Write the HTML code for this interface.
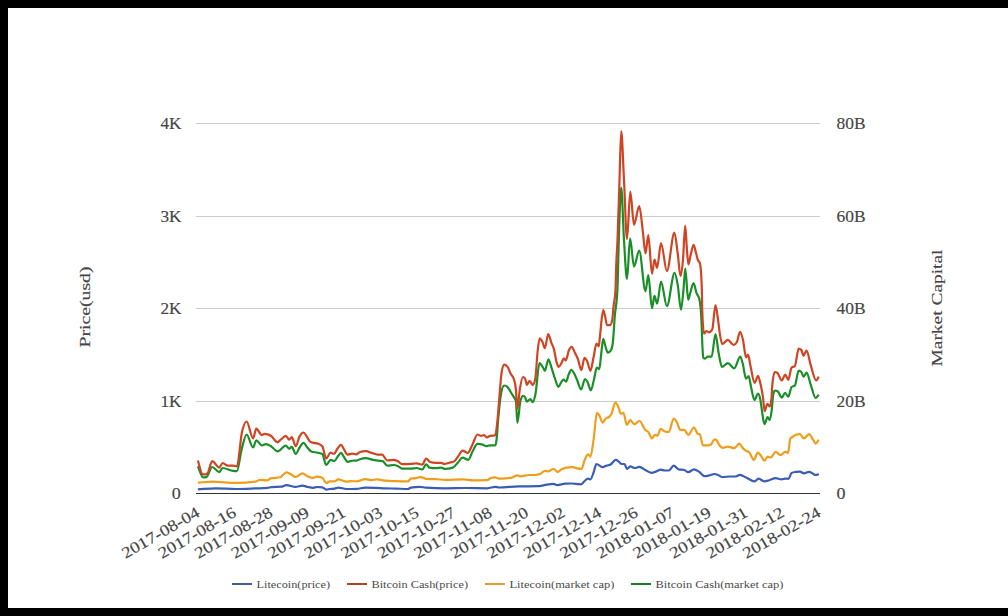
<!DOCTYPE html>
<html><head><meta charset="utf-8"><style>
html,body{margin:0;padding:0;background:#000;}
body{width:1008px;height:616px;overflow:hidden;}
svg{display:block;}
text{font-family:'Liberation Serif', serif;fill:#454545;stroke:#454545;stroke-width:0.15px;}
.ax{font-size:16px;}
.xl{font-size:16px;}
.an{font-size:15px;}
.lg{font-size:10px;fill:#4a4a4a;stroke:none;}
</style></head><body>
<svg width="1008" height="616" viewBox="0 0 1008 616">
<rect x="0" y="0" width="1008" height="616" fill="#000"/>
<rect x="8" y="8" width="1000" height="600" fill="#fff"/>
<line x1="196" y1="123.5" x2="820" y2="123.5" stroke="#ccc" stroke-width="1"/>
<line x1="196" y1="216.5" x2="820" y2="216.5" stroke="#ccc" stroke-width="1"/>
<line x1="196" y1="308.5" x2="820" y2="308.5" stroke="#ccc" stroke-width="1"/>
<line x1="196" y1="401.5" x2="820" y2="401.5" stroke="#ccc" stroke-width="1"/>
<line x1="196" y1="493.5" x2="820" y2="493.5" stroke="#333" stroke-width="1"/>
<text x="181.5" y="128.9" text-anchor="end" class="ax" textLength="21" lengthAdjust="spacingAndGlyphs">4K</text>
<text x="181.5" y="221.9" text-anchor="end" class="ax" textLength="21" lengthAdjust="spacingAndGlyphs">3K</text>
<text x="181.5" y="313.9" text-anchor="end" class="ax" textLength="21" lengthAdjust="spacingAndGlyphs">2K</text>
<text x="181.5" y="406.9" text-anchor="end" class="ax" textLength="21" lengthAdjust="spacingAndGlyphs">1K</text>
<text x="180.8" y="498.9" text-anchor="end" class="ax" textLength="9" lengthAdjust="spacingAndGlyphs">0</text>
<text x="836.5" y="128.9" text-anchor="start" class="ax" textLength="29" lengthAdjust="spacingAndGlyphs">80B</text>
<text x="836.5" y="221.9" text-anchor="start" class="ax" textLength="29" lengthAdjust="spacingAndGlyphs">60B</text>
<text x="836.5" y="313.9" text-anchor="start" class="ax" textLength="29" lengthAdjust="spacingAndGlyphs">40B</text>
<text x="836.5" y="406.9" text-anchor="start" class="ax" textLength="29" lengthAdjust="spacingAndGlyphs">20B</text>
<text x="836.5" y="498.9" text-anchor="start" class="ax" textLength="9" lengthAdjust="spacingAndGlyphs">0</text>
<path d="M197.90,482.60C202.90,482.30 207.90,481.70 212.90,481.70C220.50,481.70 228.10,482.90 235.70,482.90C242.30,482.90 248.90,482.50 255.50,481.70C256.83,481.54 258.17,480.00 259.50,480.00C262.13,480.00 264.77,480.30 267.40,480.30C268.40,480.30 269.40,478.62 270.40,478.40C273.70,477.67 277.00,478.03 280.30,477.30C282.30,476.86 284.30,472.30 286.30,472.30C287.70,472.30 289.10,473.40 290.50,474.10C292.17,474.93 293.83,477.00 295.50,477.00C297.80,477.00 300.10,473.40 302.40,473.40C304.23,473.40 306.07,475.65 307.90,476.40C309.73,477.15 311.57,477.90 313.40,477.90C314.53,477.90 315.67,476.70 316.80,476.70C318.63,476.70 320.47,477.03 322.30,477.70C323.63,478.18 324.97,483.10 326.30,483.10C327.43,483.10 328.57,481.40 329.70,481.40C331.37,481.40 333.03,481.40 334.70,481.40C335.87,481.40 337.03,479.40 338.20,479.40C341.00,479.40 343.80,481.70 346.60,481.70C348.27,481.70 349.93,481.10 351.60,481.10C353.23,481.10 354.87,481.40 356.50,481.40C359.47,481.40 362.43,479.10 365.40,479.10C367.40,479.10 369.40,480.10 371.40,480.10C373.37,480.10 375.33,479.40 377.30,479.40C379.97,479.40 382.63,480.45 385.30,480.70C388.87,481.03 392.43,481.08 396.00,481.20C399.97,481.33 403.93,481.40 407.90,481.40C408.90,481.40 409.90,478.76 410.90,478.60C412.53,478.33 414.17,478.47 415.80,478.20C417.13,477.98 418.47,477.20 419.80,477.20C421.13,477.20 422.47,477.43 423.80,477.90C424.47,478.13 425.13,478.86 425.80,478.90C429.10,479.10 432.40,479.03 435.70,479.20C439.00,479.37 442.30,479.90 445.60,479.90C451.57,479.90 457.53,479.40 463.50,479.40C466.80,479.40 470.10,480.40 473.40,480.40C478.03,480.40 482.67,480.33 487.30,480.20C488.30,480.17 489.30,478.53 490.30,478.20C491.93,477.67 493.57,477.40 495.20,477.40C496.47,477.40 497.73,478.60 499.00,478.60C501.17,478.60 503.33,478.53 505.50,478.40C507.67,478.27 509.83,478.13 512.00,477.60C513.73,477.17 515.47,475.40 517.20,475.40C518.50,475.40 519.80,476.30 521.10,476.30C523.70,476.30 526.30,475.00 528.90,475.00C531.07,475.00 533.23,475.00 535.40,475.00C536.90,475.00 538.40,474.70 539.90,474.10C541.63,473.41 543.37,470.80 545.10,470.80C546.17,470.80 547.23,471.50 548.30,471.50C550.03,471.50 551.77,468.90 553.50,468.90C554.80,468.90 556.10,471.90 557.40,471.90C558.70,471.90 560.00,470.18 561.30,469.50C562.60,468.82 563.90,468.01 565.20,467.80C567.67,467.40 570.13,467.20 572.60,467.20C574.20,467.20 575.80,468.11 577.40,468.40C578.77,468.65 580.13,468.90 581.50,468.90C582.57,468.90 583.63,462.31 584.70,459.90C585.80,457.41 586.90,454.30 588.00,454.30C588.80,454.30 589.60,456.70 590.40,456.70C591.50,456.70 592.60,446.26 593.70,438.80C594.77,431.57 595.83,412.90 596.90,412.90C597.70,412.90 598.50,414.09 599.30,415.30C600.40,416.96 601.50,422.60 602.60,422.60C603.67,422.60 604.73,419.45 605.80,418.50C606.90,417.52 608.00,417.97 609.10,416.90C609.90,416.12 610.70,415.27 611.50,413.70C612.77,411.22 614.03,402.50 615.30,402.50C616.30,402.50 617.30,404.64 618.30,406.80C619.13,408.60 619.97,413.70 620.80,413.70C621.67,413.70 622.53,412.90 623.40,412.90C624.57,412.90 625.73,425.00 626.90,425.00C628.00,425.00 629.10,420.20 630.20,420.20C631.53,420.20 632.87,424.20 634.20,424.20C635.97,424.20 637.73,421.00 639.50,421.00C641.43,421.00 643.37,427.93 645.30,429.90C646.40,431.02 647.50,430.82 648.60,432.30C649.67,433.73 650.73,438.50 651.80,438.50C652.87,438.50 653.93,434.80 655.00,434.80C655.83,434.80 656.67,435.60 657.50,435.60C658.57,435.60 659.63,428.80 660.70,428.80C662.07,428.80 663.43,431.16 664.80,431.50C666.13,431.83 667.47,432.00 668.80,432.00C670.43,432.00 672.07,418.50 673.70,418.50C674.80,418.50 675.90,420.65 677.00,422.60C678.07,424.49 679.13,429.90 680.20,429.90C681.57,429.90 682.93,429.90 684.30,429.90C685.63,429.90 686.97,434.80 688.30,434.80C690.20,434.80 692.10,427.50 694.00,427.50C695.37,427.50 696.73,434.00 698.10,434.00C698.63,434.00 699.17,434.00 699.70,434.00C700.77,434.00 701.83,445.30 702.90,445.30C704.53,445.30 706.17,445.30 707.80,445.30C708.87,445.30 709.93,445.03 711.00,444.50C712.10,443.95 713.20,439.60 714.30,439.60C714.87,439.60 715.43,439.60 716.00,439.60C716.97,439.60 717.93,443.22 718.90,444.50C720.23,446.27 721.57,447.80 722.90,447.80C724.53,447.80 726.17,446.60 727.80,446.60C729.97,446.60 732.13,448.20 734.30,448.20C735.93,448.20 737.57,443.70 739.20,443.70C740.53,443.70 741.87,447.33 743.20,448.60C744.30,449.65 745.40,450.45 746.50,451.00C747.30,451.40 748.10,451.27 748.90,451.80C750.53,452.89 752.17,459.90 753.80,459.90C755.13,459.90 756.47,452.60 757.80,452.60C758.90,452.60 760.00,454.52 761.10,455.90C762.17,457.24 763.23,460.70 764.30,460.70C765.40,460.70 766.50,456.70 767.60,456.70C768.67,456.70 769.73,457.50 770.80,457.50C772.43,457.50 774.07,451.80 775.70,451.80C777.33,451.80 778.97,455.10 780.60,455.10C782.20,455.10 783.80,451.80 785.40,451.80C786.27,451.80 787.13,453.00 788.00,453.00C788.77,453.00 789.53,440.17 790.30,438.80C790.93,437.67 791.57,437.61 792.20,437.10C793.50,436.06 794.80,435.03 796.10,434.70C797.40,434.37 798.70,434.20 800.00,434.20C801.30,434.20 802.60,438.40 803.90,438.40C805.63,438.40 807.37,434.20 809.10,434.20C810.40,434.20 811.70,437.88 813.00,439.70C813.93,441.01 814.87,443.60 815.80,443.60C816.80,443.60 817.80,441.00 818.80,439.70" fill="none" stroke="#ef9d1b" stroke-width="2.2" stroke-linejoin="round" stroke-linecap="butt"/>
<path d="M197.90,489.30C203.87,489.00 209.83,488.40 215.80,488.40C222.43,488.40 229.07,489.00 235.70,489.00C242.30,489.00 248.90,488.65 255.50,488.40C259.47,488.25 263.43,488.23 267.40,487.90C268.73,487.79 270.07,487.21 271.40,487.10C274.70,486.83 278.00,486.97 281.30,486.70C282.97,486.57 284.63,485.10 286.30,485.10C289.37,485.10 292.43,486.90 295.50,486.90C297.80,486.90 300.10,485.60 302.40,485.60C304.23,485.60 306.07,486.63 307.90,487.00C309.73,487.37 311.57,487.80 313.40,487.80C314.53,487.80 315.67,487.00 316.80,487.00C318.63,487.00 320.47,487.10 322.30,487.30C323.63,487.45 324.97,489.60 326.30,489.60C327.43,489.60 328.57,489.16 329.70,489.00C331.37,488.77 333.03,488.87 334.70,488.60C335.87,488.41 337.03,487.60 338.20,487.60C341.00,487.60 343.80,489.00 346.60,489.00C349.90,489.00 353.20,488.93 356.50,488.80C359.47,488.68 362.43,487.60 365.40,487.60C368.73,487.60 372.07,487.68 375.40,487.80C378.70,487.92 382.00,488.17 385.30,488.30C388.87,488.44 392.43,488.49 396.00,488.60C399.97,488.72 403.93,489.00 407.90,489.00C408.90,489.00 409.90,487.78 410.90,487.60C413.87,487.07 416.83,486.80 419.80,486.80C421.80,486.80 423.80,487.46 425.80,487.60C432.40,488.07 439.00,488.30 445.60,488.30C452.20,488.30 458.80,488.00 465.40,488.00C472.70,488.00 480.00,488.30 487.30,488.30C489.93,488.30 492.57,486.80 495.20,486.80C496.47,486.80 497.73,487.50 499.00,487.50C505.50,487.50 512.00,486.53 518.50,486.40C525.00,486.27 531.50,486.33 538.00,486.20C540.13,486.16 542.27,485.44 544.40,485.10C547.43,484.61 550.47,483.80 553.50,483.80C554.80,483.80 556.10,485.10 557.40,485.10C560.00,485.10 562.60,483.68 565.20,483.60C567.37,483.53 569.53,483.50 571.70,483.50C574.70,483.50 577.70,484.30 580.70,484.30C582.03,484.30 583.37,482.03 584.70,481.00C585.80,480.15 586.90,478.60 588.00,478.60C588.80,478.60 589.60,479.40 590.40,479.40C591.50,479.40 592.60,475.01 593.70,472.10C594.60,469.72 595.50,464.00 596.40,464.00C598.47,464.00 600.53,467.20 602.60,467.20C603.93,467.20 605.27,466.05 606.60,465.60C607.97,465.14 609.33,465.23 610.70,464.50C612.33,463.62 613.97,459.90 615.60,459.90C616.67,459.90 617.73,460.87 618.80,461.60C619.77,462.26 620.73,464.00 621.70,464.00C622.63,464.00 623.57,464.00 624.50,464.00C625.30,464.00 626.10,468.90 626.90,468.90C628.00,468.90 629.10,466.40 630.20,466.40C631.80,466.40 633.40,468.00 635.00,468.00C636.37,468.00 637.73,466.80 639.10,466.80C641.43,466.80 643.77,469.40 646.10,470.50C648.00,471.39 649.90,472.90 651.80,472.90C653.17,472.90 654.53,472.08 655.90,471.60C657.50,471.03 659.10,469.70 660.70,469.70C662.07,469.70 663.43,470.50 664.80,470.50C666.13,470.50 667.47,470.50 668.80,470.50C670.43,470.50 672.07,465.60 673.70,465.60C675.33,465.60 676.97,469.06 678.60,469.40C680.50,469.80 682.40,469.60 684.30,470.00C685.63,470.28 686.97,472.10 688.30,472.10C690.20,472.10 692.10,469.40 694.00,469.40C695.63,469.40 697.27,470.60 698.90,471.60C700.80,472.77 702.70,476.20 704.60,476.20C706.20,476.20 707.80,475.76 709.40,475.40C711.03,475.03 712.67,474.00 714.30,474.00C715.53,474.00 716.77,474.54 718.00,475.00C719.37,475.51 720.73,477.00 722.10,477.00C724.80,477.00 727.50,476.50 730.20,476.50C731.83,476.50 733.47,476.50 735.10,476.50C736.73,476.50 738.37,474.90 740.00,474.90C742.17,474.90 744.33,476.83 746.50,477.80C749.20,479.00 751.90,481.40 754.60,481.40C755.93,481.40 757.27,478.60 758.60,478.60C760.50,478.60 762.40,481.40 764.30,481.40C765.93,481.40 767.57,480.65 769.20,480.20C771.37,479.60 773.53,478.10 775.70,478.10C777.60,478.10 779.50,479.40 781.40,479.40C782.73,479.40 784.07,478.60 785.40,478.60C786.43,478.60 787.47,478.80 788.50,478.80C789.53,478.80 790.57,473.36 791.60,472.90C793.10,472.23 794.60,472.12 796.10,471.90C797.40,471.71 798.70,471.60 800.00,471.60C801.30,471.60 802.60,473.40 803.90,473.40C805.63,473.40 807.37,471.80 809.10,471.80C810.40,471.80 811.70,473.06 813.00,473.70C813.87,474.13 814.73,475.00 815.60,475.00C816.67,475.00 817.73,474.40 818.80,474.10" fill="none" stroke="#3a5cb4" stroke-width="2.2" stroke-linejoin="round" stroke-linecap="butt"/>
<path d="M197.90,466.30C199.63,469.97 201.37,477.30 203.10,477.30C204.17,477.30 205.23,477.23 206.30,477.10C208.27,476.85 210.23,467.00 212.20,467.00C214.57,467.00 216.93,472.10 219.30,472.10C220.40,472.10 221.50,468.00 222.60,468.00C226.07,468.00 229.53,470.35 233.00,470.80C234.30,470.97 235.60,471.10 236.90,471.10C238.43,471.10 239.97,455.91 241.50,450.00C243.20,443.45 244.90,434.50 246.60,434.50C248.77,434.50 250.93,447.50 253.10,447.50C254.17,447.50 255.23,440.30 256.30,440.30C258.17,440.30 260.03,445.50 261.90,445.50C263.20,445.50 264.50,444.20 265.80,444.20C267.53,444.20 269.27,445.21 271.00,446.20C273.17,447.43 275.33,451.40 277.50,451.40C280.30,451.40 283.10,445.50 285.90,445.50C287.00,445.50 288.10,448.80 289.20,448.80C290.07,448.80 290.93,446.80 291.80,446.80C293.10,446.80 294.40,454.00 295.70,454.00C297.00,454.00 298.30,449.35 299.60,447.50C300.90,445.65 302.20,442.90 303.50,442.90C304.80,442.90 306.10,446.07 307.40,447.50C308.67,448.90 309.93,450.89 311.20,451.40C313.37,452.27 315.53,452.16 317.70,452.70C319.23,453.08 320.77,453.13 322.30,454.00C323.60,454.73 324.90,465.00 326.20,465.00C327.70,465.00 329.20,459.80 330.70,459.80C331.90,459.80 333.10,461.10 334.30,461.10C335.37,461.10 336.43,458.20 337.50,456.90C338.70,455.44 339.90,452.90 341.10,452.90C341.97,452.90 342.83,455.40 343.70,456.60C345.00,458.40 346.30,461.80 347.60,461.80C349.57,461.80 351.53,460.50 353.50,460.50C354.37,460.50 355.23,460.70 356.10,460.70C357.40,460.70 358.70,459.59 360.00,459.20C361.93,458.62 363.87,458.20 365.80,458.20C368.20,458.20 370.60,459.34 373.00,459.80C374.73,460.14 376.47,460.48 378.20,460.70C379.70,460.89 381.20,460.83 382.70,461.10C384.20,461.37 385.70,465.60 387.20,465.60C389.37,465.60 391.53,465.00 393.70,465.00C395.00,465.00 396.30,465.39 397.60,465.90C399.13,466.50 400.67,468.60 402.20,468.60C404.13,468.60 406.07,468.60 408.00,468.60C409.97,468.60 411.93,468.53 413.90,468.40C414.77,468.34 415.63,468.00 416.50,468.00C418.43,468.00 420.37,469.50 422.30,469.50C423.60,469.50 424.90,464.40 426.20,464.40C427.30,464.40 428.40,467.40 429.50,467.60C431.67,468.00 433.83,468.20 436.00,468.20C437.73,468.20 439.47,467.60 441.20,467.60C442.27,467.60 443.33,468.90 444.40,468.90C447.23,468.90 450.07,468.47 452.90,467.60C454.60,467.08 456.30,464.15 458.00,462.40C459.53,460.82 461.07,457.60 462.60,457.60C464.53,457.60 466.47,459.80 468.40,459.80C469.70,459.80 471.00,454.36 472.30,452.00C474.03,448.85 475.77,443.80 477.50,443.80C479.23,443.80 480.97,444.07 482.70,444.60C483.90,444.97 485.10,446.20 486.30,446.20C487.50,446.20 488.70,445.30 489.90,445.30C491.63,445.30 493.37,445.50 495.10,445.50C495.53,445.50 495.97,444.00 496.40,441.00C497.03,436.62 497.67,424.85 498.30,418.00C499.17,408.63 500.03,399.23 500.90,394.50C502.00,388.50 503.10,385.50 504.20,385.50C505.27,385.50 506.33,385.93 507.40,386.80C508.50,387.69 509.60,390.26 510.70,392.00C511.77,393.69 512.83,395.17 513.90,397.10C514.57,398.31 515.23,398.40 515.90,401.00C516.40,402.95 516.90,422.80 517.40,422.80C518.40,422.80 519.40,405.00 520.40,401.00C521.27,397.53 522.13,395.80 523.00,395.80C523.67,395.80 524.33,396.23 525.00,397.10C525.63,397.92 526.27,401.70 526.90,401.70C528.00,401.70 529.10,399.10 530.20,399.10C531.07,399.10 531.93,402.10 532.80,402.10C533.67,402.10 534.53,398.62 535.40,394.50C536.77,388.01 538.13,363.20 539.50,363.20C540.67,363.20 541.83,365.68 543.00,367.50C543.63,368.49 544.27,370.80 544.90,370.80C546.07,370.80 547.23,359.30 548.40,359.30C549.47,359.30 550.53,364.88 551.60,368.00C552.77,371.41 553.93,375.76 555.10,379.00C556.17,381.96 557.23,386.80 558.30,386.80C559.40,386.80 560.50,382.97 561.60,381.60C562.23,380.81 562.87,379.60 563.50,379.60C564.37,379.60 565.23,381.60 566.10,381.60C566.97,381.60 567.83,376.35 568.70,374.40C569.60,372.38 570.50,369.80 571.40,369.80C572.33,369.80 573.27,371.84 574.20,373.50C575.20,375.28 576.20,378.00 577.20,380.30C578.50,383.28 579.80,389.40 581.10,389.40C582.40,389.40 583.70,379.00 585.00,379.00C585.87,379.00 586.73,380.62 587.60,382.20C588.67,384.15 589.73,390.40 590.80,390.40C591.90,390.40 593.00,383.29 594.10,379.00C595.00,375.49 595.90,367.50 596.80,367.50C597.63,367.50 598.47,369.20 599.30,369.20C599.93,369.20 600.57,358.94 601.20,354.00C601.87,348.80 602.53,338.80 603.20,338.80C603.90,338.80 604.60,343.88 605.30,346.00C606.17,348.63 607.03,352.60 607.90,352.60C608.90,352.60 609.90,351.87 610.90,350.40C611.57,349.42 612.23,347.60 612.90,342.00C613.53,336.68 614.17,323.68 614.80,316.00C615.67,305.49 616.53,307.33 617.40,290.00C617.87,280.67 618.33,254.28 618.80,240.00C619.60,215.52 620.40,187.60 621.20,187.60C622.13,187.60 623.07,225.11 624.00,240.00C625.00,255.96 626.00,279.00 627.00,279.00C628.03,279.00 629.07,238.40 630.10,238.40C631.40,238.40 632.70,266.60 634.00,266.60C635.73,266.60 637.47,250.50 639.20,250.50C641.30,250.50 643.40,291.30 645.50,291.30C646.43,291.30 647.37,275.00 648.30,275.00C649.53,275.00 650.77,308.20 652.00,308.20C652.83,308.20 653.67,295.80 654.50,295.80C655.37,295.80 656.23,303.60 657.10,303.60C658.40,303.60 659.70,281.60 661.00,281.60C662.97,281.60 664.93,306.20 666.90,306.20C669.47,306.20 672.03,272.80 674.60,272.80C675.67,272.80 676.73,279.37 677.80,285.50C678.87,291.63 679.93,309.60 681.00,309.60C681.87,309.60 682.73,297.09 683.60,288.20C684.17,282.39 684.73,268.50 685.30,268.50C686.27,268.50 687.23,299.90 688.20,299.90C688.83,299.90 689.47,295.47 690.10,293.40C691.27,289.59 692.43,283.00 693.60,283.00C694.60,283.00 695.60,290.72 696.60,293.40C697.47,295.72 698.33,295.13 699.20,298.60C699.87,301.27 700.53,304.23 701.20,315.50C701.63,322.82 702.07,340.43 702.50,347.90C702.77,352.50 703.03,357.69 703.30,357.90C703.90,358.37 704.50,358.60 705.10,358.60C705.97,358.60 706.83,356.60 707.70,356.60C709.00,356.60 710.30,356.60 711.60,356.60C712.90,356.60 714.20,334.00 715.50,334.00C716.57,334.00 717.63,347.95 718.70,353.40C719.80,359.02 720.90,367.00 722.00,367.00C723.93,367.00 725.87,363.10 727.80,363.10C729.97,363.10 732.13,368.30 734.30,368.30C736.27,368.30 738.23,356.60 740.20,356.60C741.07,356.60 741.93,360.67 742.80,363.80C743.87,367.66 744.93,378.70 746.00,378.70C746.87,378.70 747.73,376.10 748.60,376.10C749.47,376.10 750.33,384.17 751.20,387.80C752.27,392.27 753.33,400.00 754.40,400.00C755.60,400.00 756.80,393.60 758.00,393.60C758.80,393.60 759.60,395.80 760.40,400.00C760.90,402.63 761.40,407.12 761.90,410.30C762.73,415.60 763.57,424.10 764.40,424.10C765.47,424.10 766.53,417.20 767.60,417.20C768.27,417.20 768.93,420.00 769.60,420.00C770.30,420.00 771.00,415.72 771.70,410.30C772.23,406.17 772.77,396.23 773.30,394.10C773.90,391.70 774.50,390.50 775.10,390.50C776.03,390.50 776.97,390.83 777.90,391.50C779.20,392.43 780.50,397.60 781.80,397.60C782.90,397.60 784.00,392.80 785.10,392.80C786.17,392.80 787.23,396.70 788.30,396.70C789.40,396.70 790.50,387.96 791.60,387.00C792.67,386.07 793.73,386.53 794.80,385.60C796.10,384.46 797.40,370.70 798.70,370.70C799.57,370.70 800.43,371.13 801.30,372.00C802.03,372.73 802.77,376.60 803.50,376.60C804.50,376.60 805.50,372.70 806.50,372.70C808.00,372.70 809.50,381.43 811.00,385.60C812.53,389.87 814.07,398.00 815.60,398.00C816.67,398.00 817.73,395.80 818.80,394.70" fill="none" stroke="#1a8f28" stroke-width="2.2" stroke-linejoin="round" stroke-linecap="butt"/>
<path d="M197.90,460.50C199.40,465.03 200.90,473.64 202.40,474.10C203.27,474.37 204.13,474.50 205.00,474.50C205.83,474.50 206.67,474.13 207.50,473.40C209.07,472.02 210.63,461.10 212.20,461.10C214.57,461.10 216.93,467.60 219.30,467.60C220.40,467.60 221.50,463.00 222.60,463.00C224.33,463.00 226.07,465.60 227.80,465.60C229.53,465.60 231.27,465.60 233.00,465.60C234.30,465.60 235.60,466.30 236.90,466.30C238.60,466.30 240.30,439.36 242.00,431.90C243.53,425.17 245.07,421.50 246.60,421.50C248.77,421.50 250.93,438.40 253.10,438.40C254.17,438.40 255.23,428.60 256.30,428.60C258.17,428.60 260.03,435.10 261.90,435.10C262.77,435.10 263.63,433.80 264.50,433.80C266.67,433.80 268.83,434.47 271.00,435.80C273.17,437.13 275.33,442.30 277.50,442.30C278.57,442.30 279.63,440.54 280.70,439.70C282.43,438.33 284.17,435.80 285.90,435.80C287.00,435.80 288.10,439.70 289.20,439.70C290.07,439.70 290.93,437.10 291.80,437.10C293.10,437.10 294.40,446.20 295.70,446.20C297.00,446.20 298.30,438.68 299.60,436.40C300.90,434.12 302.20,432.50 303.50,432.50C304.57,432.50 305.63,434.91 306.70,436.40C307.80,437.93 308.90,440.85 310.00,441.60C311.27,442.47 312.53,442.57 313.80,442.90C315.10,443.24 316.40,443.14 317.70,443.60C319.23,444.15 320.77,444.47 322.30,446.20C323.60,447.67 324.90,458.50 326.20,458.50C327.70,458.50 329.20,452.70 330.70,452.70C331.80,452.70 332.90,454.00 334.00,454.00C335.07,454.00 336.13,450.42 337.20,449.00C338.50,447.27 339.80,444.90 341.10,444.90C341.97,444.90 342.83,447.50 343.70,448.80C345.00,450.74 346.30,454.60 347.60,454.60C349.13,454.60 350.67,453.60 352.20,453.60C353.50,453.60 354.80,454.40 356.10,454.40C357.40,454.40 358.70,452.40 360.00,452.00C361.93,451.40 363.87,451.10 365.80,451.10C367.77,451.10 369.73,452.31 371.70,452.90C373.63,453.48 375.57,454.60 377.50,454.60C379.00,454.60 380.50,454.60 382.00,454.60C383.73,454.60 385.47,460.50 387.20,460.50C389.37,460.50 391.53,459.80 393.70,459.80C395.00,459.80 396.30,460.48 397.60,461.10C399.13,461.84 400.67,464.10 402.20,464.10C404.13,464.10 406.07,464.10 408.00,464.10C409.97,464.10 411.93,463.95 413.90,463.70C414.77,463.59 415.63,463.30 416.50,463.30C418.43,463.30 420.37,464.60 422.30,464.60C423.60,464.60 424.90,458.50 426.20,458.50C427.50,458.50 428.80,461.65 430.10,462.00C432.07,462.53 434.03,462.80 436.00,462.80C437.73,462.80 439.47,462.80 441.20,462.80C442.27,462.80 443.33,464.10 444.40,464.10C445.93,464.10 447.47,463.22 449.00,462.80C450.73,462.32 452.47,462.33 454.20,461.40C455.47,460.72 456.73,458.21 458.00,456.60C459.53,454.65 461.07,450.70 462.60,450.70C464.33,450.70 466.07,452.90 467.80,452.90C469.30,452.90 470.80,447.72 472.30,444.90C474.03,441.64 475.77,434.50 477.50,434.50C478.60,434.50 479.70,435.80 480.80,435.80C481.87,435.80 482.93,435.10 484.00,435.10C485.00,435.10 486.00,437.50 487.00,437.50C487.97,437.50 488.93,435.91 489.90,435.80C491.63,435.60 493.37,435.70 495.10,435.50C495.97,435.40 496.83,426.54 497.70,417.90C498.33,411.58 498.97,401.89 499.60,394.50C500.27,386.72 500.93,376.50 501.60,372.50C502.47,367.30 503.33,364.70 504.20,364.70C505.27,364.70 506.33,365.33 507.40,366.60C508.50,367.91 509.60,371.71 510.70,373.80C511.77,375.83 512.83,375.53 513.90,379.00C514.57,381.17 515.23,382.99 515.90,389.40C516.40,394.21 516.90,408.80 517.40,408.80C518.20,408.80 519.00,394.42 519.80,389.40C520.87,382.70 521.93,377.00 523.00,377.00C523.67,377.00 524.33,377.43 525.00,378.30C525.63,379.12 526.27,384.80 526.90,384.80C527.77,384.80 528.63,380.90 529.50,380.90C530.60,380.90 531.70,384.80 532.80,384.80C533.67,384.80 534.53,382.43 535.40,377.70C536.13,373.69 536.87,358.12 537.60,351.50C538.30,345.18 539.00,338.30 539.70,338.30C540.57,338.30 541.43,339.97 542.30,341.60C543.17,343.23 544.03,348.10 544.90,348.10C546.00,348.10 547.10,334.00 548.20,334.00C549.27,334.00 550.33,340.10 551.40,342.90C552.27,345.18 553.13,346.17 554.00,349.40C554.87,352.63 555.73,359.30 556.60,362.30C557.27,364.60 557.93,366.90 558.60,366.90C559.47,366.90 560.33,365.02 561.20,363.60C562.07,362.18 562.93,358.40 563.80,358.40C564.43,358.40 565.07,360.40 565.70,360.40C566.80,360.40 567.90,352.28 569.00,350.00C569.87,348.20 570.73,346.80 571.60,346.80C572.67,346.80 573.73,350.49 574.80,352.60C575.90,354.78 577.00,356.72 578.10,359.70C579.17,362.59 580.23,370.10 581.30,370.10C582.37,370.10 583.43,357.80 584.50,357.80C585.37,357.80 586.23,359.27 587.10,361.00C588.20,363.20 589.30,370.80 590.40,370.80C591.47,370.80 592.53,361.86 593.60,357.10C594.57,352.79 595.53,343.70 596.50,343.70C597.27,343.70 598.03,346.30 598.80,346.30C599.17,346.30 599.53,339.91 599.90,336.80C601.00,327.46 602.10,310.20 603.20,310.20C603.83,310.20 604.47,313.82 605.10,316.30C605.73,318.78 606.37,325.10 607.00,325.10C608.10,325.10 609.20,325.10 610.30,325.10C610.93,325.10 611.57,323.37 612.20,319.90C612.63,317.53 613.07,310.97 613.50,306.90C614.17,300.64 614.83,301.27 615.50,290.00C615.73,286.06 615.97,272.83 616.20,266.00C616.63,253.31 617.07,250.37 617.50,240.00C618.17,224.04 618.83,199.58 619.50,180.00C620.07,163.36 620.63,131.00 621.20,131.00C622.13,131.00 623.07,162.68 624.00,180.00C625.00,198.56 626.00,239.10 627.00,239.10C628.10,239.10 629.20,191.60 630.30,191.60C631.53,191.60 632.77,224.80 634.00,224.80C635.73,224.80 637.47,206.00 639.20,206.00C640.43,206.00 641.67,222.43 642.90,232.00C643.77,238.72 644.63,253.50 645.50,253.50C646.43,253.50 647.37,235.20 648.30,235.20C649.53,235.20 650.77,273.80 652.00,273.80C652.83,273.80 653.67,259.50 654.50,259.50C655.37,259.50 656.23,267.90 657.10,267.90C658.40,267.90 659.70,243.10 661.00,243.10C662.97,243.10 664.93,271.20 666.90,271.20C669.40,271.20 671.90,232.70 674.40,232.70C675.53,232.70 676.67,245.93 677.80,254.20C678.70,260.77 679.60,276.00 680.50,276.00C681.33,276.00 682.17,268.80 683.00,259.40C683.73,251.13 684.47,225.60 685.20,225.60C685.77,225.60 686.33,242.23 686.90,249.00C687.40,254.97 687.90,264.50 688.40,264.50C689.20,264.50 690.00,257.29 690.80,254.20C691.73,250.60 692.67,244.80 693.60,244.80C694.40,244.80 695.20,250.04 696.00,252.90C696.63,255.17 697.27,258.29 697.90,260.00C698.57,261.80 699.23,261.07 699.90,263.20C700.53,265.23 701.17,271.43 701.80,287.90C701.93,291.37 702.07,305.36 702.20,309.00C702.80,325.40 703.40,333.60 704.00,333.60C704.80,333.60 705.60,331.00 706.40,331.00C707.27,331.00 708.13,332.30 709.00,332.30C710.07,332.30 711.13,331.43 712.20,329.70C713.30,327.91 714.40,305.10 715.50,305.10C716.33,305.10 717.17,313.69 718.00,319.40C718.67,323.97 719.33,330.90 720.00,334.90C720.77,339.50 721.53,344.10 722.30,344.10C724.13,344.10 725.97,339.90 727.80,339.90C729.73,339.90 731.67,345.00 733.60,345.00C734.70,345.00 735.80,344.00 736.90,342.00C737.97,340.06 739.03,331.80 740.10,331.80C741.07,331.80 742.03,335.87 743.00,340.00C744.00,344.27 745.00,357.30 746.00,357.30C746.67,357.30 747.33,354.70 748.00,354.70C748.83,354.70 749.67,362.37 750.50,366.00C751.87,371.96 753.23,382.80 754.60,382.80C755.73,382.80 756.87,375.80 758.00,375.80C758.87,375.80 759.73,380.70 760.60,384.50C761.40,388.00 762.20,391.42 763.00,397.30C763.53,401.22 764.07,411.20 764.60,411.20C765.53,411.20 766.47,403.80 767.40,403.80C768.20,403.80 769.00,406.50 769.80,406.50C770.37,406.50 770.93,403.67 771.50,398.00C771.77,395.33 772.03,387.89 772.30,385.00C773.10,376.33 773.90,372.00 774.70,372.00C775.57,372.00 776.43,372.23 777.30,372.70C778.80,373.51 780.30,380.50 781.80,380.50C782.90,380.50 784.00,374.60 785.10,374.60C786.17,374.60 787.23,379.80 788.30,379.80C789.40,379.80 790.50,368.39 791.60,367.50C792.67,366.63 793.73,367.07 794.80,366.20C796.10,365.14 797.40,348.60 798.70,348.60C799.57,348.60 800.43,349.03 801.30,349.90C802.03,350.63 802.77,355.80 803.50,355.80C804.50,355.80 805.50,350.60 806.50,350.60C808.00,350.60 809.50,361.50 811.00,366.20C812.73,371.63 814.47,380.50 816.20,380.50C817.07,380.50 817.93,377.90 818.80,376.60" fill="none" stroke="#cf4422" stroke-width="2.2" stroke-linejoin="round" stroke-linecap="butt"/>
<text transform="translate(198.32,511.2) rotate(-30)" x="0" y="5" text-anchor="end" class="xl" textLength="87" lengthAdjust="spacingAndGlyphs">2017-08-04</text>
<text transform="translate(234.85,511.2) rotate(-30)" x="0" y="5" text-anchor="end" class="xl" textLength="87" lengthAdjust="spacingAndGlyphs">2017-08-16</text>
<text transform="translate(271.38,511.2) rotate(-30)" x="0" y="5" text-anchor="end" class="xl" textLength="87" lengthAdjust="spacingAndGlyphs">2017-08-28</text>
<text transform="translate(307.90,511.2) rotate(-30)" x="0" y="5" text-anchor="end" class="xl" textLength="87" lengthAdjust="spacingAndGlyphs">2017-09-09</text>
<text transform="translate(344.43,511.2) rotate(-30)" x="0" y="5" text-anchor="end" class="xl" textLength="87" lengthAdjust="spacingAndGlyphs">2017-09-21</text>
<text transform="translate(380.96,511.2) rotate(-30)" x="0" y="5" text-anchor="end" class="xl" textLength="87" lengthAdjust="spacingAndGlyphs">2017-10-03</text>
<text transform="translate(417.48,511.2) rotate(-30)" x="0" y="5" text-anchor="end" class="xl" textLength="87" lengthAdjust="spacingAndGlyphs">2017-10-15</text>
<text transform="translate(454.01,511.2) rotate(-30)" x="0" y="5" text-anchor="end" class="xl" textLength="87" lengthAdjust="spacingAndGlyphs">2017-10-27</text>
<text transform="translate(490.54,511.2) rotate(-30)" x="0" y="5" text-anchor="end" class="xl" textLength="87" lengthAdjust="spacingAndGlyphs">2017-11-08</text>
<text transform="translate(527.06,511.2) rotate(-30)" x="0" y="5" text-anchor="end" class="xl" textLength="87" lengthAdjust="spacingAndGlyphs">2017-11-20</text>
<text transform="translate(563.59,511.2) rotate(-30)" x="0" y="5" text-anchor="end" class="xl" textLength="87" lengthAdjust="spacingAndGlyphs">2017-12-02</text>
<text transform="translate(600.12,511.2) rotate(-30)" x="0" y="5" text-anchor="end" class="xl" textLength="87" lengthAdjust="spacingAndGlyphs">2017-12-14</text>
<text transform="translate(636.64,511.2) rotate(-30)" x="0" y="5" text-anchor="end" class="xl" textLength="87" lengthAdjust="spacingAndGlyphs">2017-12-26</text>
<text transform="translate(673.17,511.2) rotate(-30)" x="0" y="5" text-anchor="end" class="xl" textLength="87" lengthAdjust="spacingAndGlyphs">2018-01-07</text>
<text transform="translate(709.70,511.2) rotate(-30)" x="0" y="5" text-anchor="end" class="xl" textLength="87" lengthAdjust="spacingAndGlyphs">2018-01-19</text>
<text transform="translate(746.22,511.2) rotate(-30)" x="0" y="5" text-anchor="end" class="xl" textLength="87" lengthAdjust="spacingAndGlyphs">2018-01-31</text>
<text transform="translate(782.75,511.2) rotate(-30)" x="0" y="5" text-anchor="end" class="xl" textLength="87" lengthAdjust="spacingAndGlyphs">2018-02-12</text>
<text transform="translate(819.28,511.2) rotate(-30)" x="0" y="5" text-anchor="end" class="xl" textLength="87" lengthAdjust="spacingAndGlyphs">2018-02-24</text>
<text transform="translate(90,307) rotate(-90)" text-anchor="middle" class="an" textLength="81" lengthAdjust="spacingAndGlyphs">Price(usd)</text>
<text transform="translate(942,308) rotate(-90)" text-anchor="middle" class="an" textLength="117" lengthAdjust="spacingAndGlyphs">Market Capital</text>
<line x1="232" y1="584" x2="252" y2="584" stroke="#3f5f9c" stroke-width="2"/>
<text x="256.5" y="588" class="lg" textLength="73.5" lengthAdjust="spacingAndGlyphs">Litecoin(price)</text>
<line x1="347" y1="584" x2="367" y2="584" stroke="#b04224" stroke-width="2"/>
<text x="371.5" y="588" class="lg" textLength="96.5" lengthAdjust="spacingAndGlyphs">Bitcoin Cash(price)</text>
<line x1="485" y1="584" x2="505" y2="584" stroke="#dc9c30" stroke-width="2"/>
<text x="509.5" y="588" class="lg" textLength="104.8" lengthAdjust="spacingAndGlyphs">Litecoin(market cap)</text>
<line x1="631" y1="584" x2="651" y2="584" stroke="#23792a" stroke-width="2"/>
<text x="655.5" y="588" class="lg" textLength="128" lengthAdjust="spacingAndGlyphs">Bitcoin Cash(market cap)</text>
</svg>
</body></html>
